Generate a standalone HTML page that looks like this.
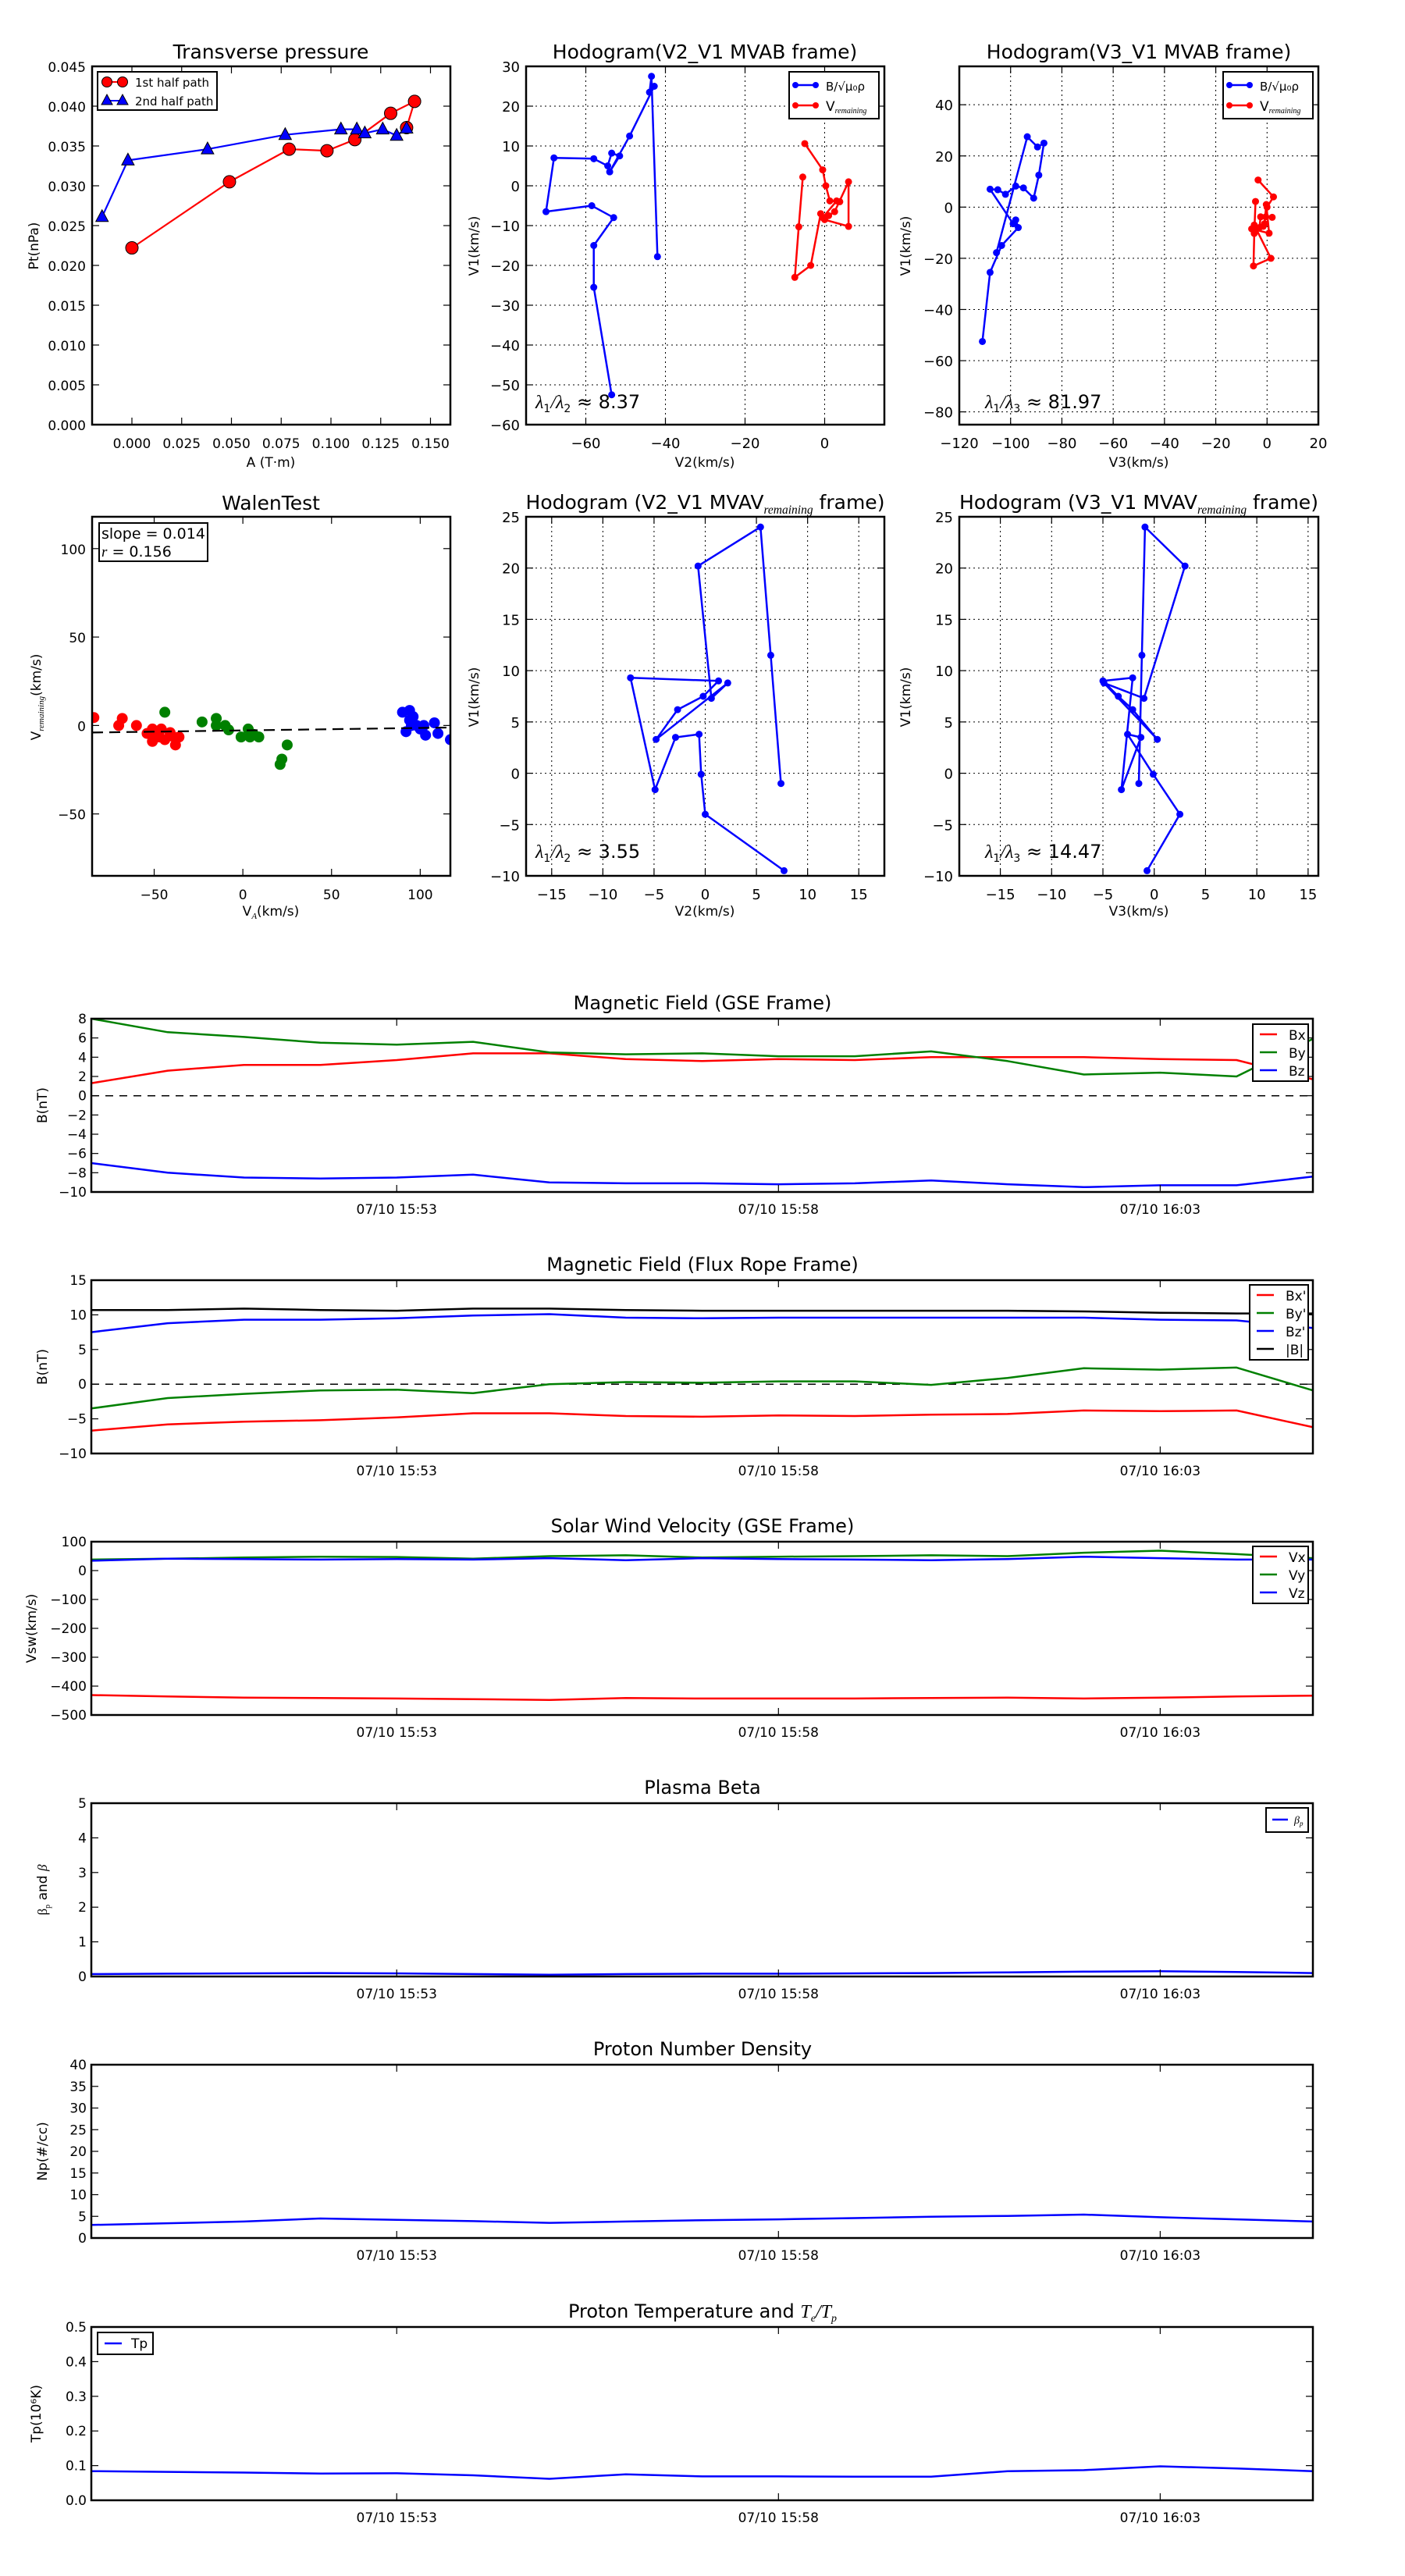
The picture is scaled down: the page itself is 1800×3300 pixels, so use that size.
<!DOCTYPE html>
<html><head><meta charset="utf-8"><style>
html,body{margin:0;padding:0;background:#fff;}
svg{display:block;font-family:"DejaVu Sans","Liberation Sans",sans-serif;}
</style></head><body>
<svg id="fig" width="1800" height="3300" viewBox="0 0 1800 3300" xmlns="http://www.w3.org/2000/svg"></svg>
<script>
// ---------- Transverse pressure ----------
const tp1A = [0.000, 0.049, 0.079, 0.098, 0.112, 0.130, 0.142, 0.138];
const tp1P = [0.0222, 0.0305, 0.0346, 0.0344, 0.0358, 0.0391, 0.0406, 0.0373];
const tp2A = [-0.015, -0.002, 0.038, 0.077, 0.105, 0.113, 0.117, 0.126, 0.133, 0.138];
const tp2P = [0.0261, 0.0332, 0.0346, 0.0364, 0.0371, 0.0371, 0.0366, 0.0371, 0.0363, 0.0372];
const tpXTicks = [0, 0.025, 0.05, 0.075, 0.1, 0.125, 0.15];
const tpYTicks = [0, 0.005, 0.01, 0.015, 0.02, 0.025, 0.03, 0.035, 0.04, 0.045];
// ---------- Hodogram MVAB ----------
const mvabBV1 = [-52.5, -25.5, -15, -8, -5, -6.5, 7, 6.8, 5, 8.2, 7.5, 3.5, 12.5, 25, 23.5, 27.5, -17.8];
const mvabBV2 = [-53.5, -58, -58, -53, -58.5, -70, -68, -58, -54.5, -53.5, -51.5, -54, -49, -42.8, -44, -43.5, -42];
const mvabBV3 = [-111, -108, -103.5, -97, -98, -99, -108, -105, -102, -98, -95, -91, -89, -87, -89.5, -93.5, -105.5];
const mvabRV1 = [2.2, -10.3, -23, -20, -7, -8.5, -10.2, 1, -6.5, -7.5, -8, -3.8, -4, -3.8, 0, 4, 10.6];
const mvabRV2 = [-5.5, -6.5, -7.5, -3.5, -1, 0, 6, 6, 2.5, 1, -0.5, 3, 3.8, 1.3, 0.3, -0.5, -5];
const mvabRV3 = [-4.5, -5, -5.3, 1.5, -5, -6, 0.8, -0.3, -1, -1.5, -3, -2.5, 2, -0.5, 0, 2.5, -3.5];
// ---------- Walen test ----------
const walRedX = [-84, -70, -68, -60, -54, -51, -51, -49, -47, -46, -44, -41, -40, -38, -36];
const walRedY = [4.5, 0, 4, 0, -4.5, -2, -9, -5, -6.5, -2, -8, -4, -6, -11, -6.5];
const walGrnX = [-44, -23, -15, -15, -10, -8, -1, 3, 4, 6, 9, 25, 22, 21];
const walGrnY = [7.5, 2, 4, 0, 0, -2.5, -6.5, -2, -6.5, -5, -6.5, -11, -19, -22];
const walBluX = [90, 92, 94, 94, 95, 96, 96, 98, 100, 102, 103, 108, 110, 117];
const walBluY = [7.5, -3.5, 8.5, 3, 0, 5, 1, 0, -2, 0, -5.5, 1.5, -4.5, -8];
const walSlope = [0.014];
const walIntercept = [-2.8];
// ---------- Hodogram MVAV ----------
const mvavV1 = [-9.5, -4, -0.1, 3.8, 3.5, -1.6, 9.3, 9.0, 7.5, 6.2, 3.3, 8.8, 7.3, 20.2, 24, 11.5, -1];
const mvavV2 = [7.7, 0, -0.4, -0.6, -2.9, -4.9, -7.3, 1.3, -0.2, -2.7, -4.8, 2.2, 0.6, -0.7, 5.4, 6.4, 7.4];
const mvavV3 = [-0.7, 2.5, -0.1, -2.6, -1.3, -3.2, -2.1, -5, -3.5, -2.1, 0.3, -4.9, -1, 3, -0.9, -1.2, -1.5];
// ---------- Time series (17 one-minute samples, 15:49 .. 16:05) ----------
const tsMinutes = [0,1,2,3,4,5,6,7,8,9,10,11,12,13,14,15,16];
const tsTickLabels = ["07/10 15:53", "07/10 15:58", "07/10 16:03"];
const tsTickMinutes = [4, 9, 14];
const gseBx = [1.3, 2.6, 3.2, 3.2, 3.7, 4.4, 4.4, 3.8, 3.6, 3.8, 3.7, 4.0, 4.0, 4.0, 3.8, 3.7, 1.7];
const gseBy = [8.0, 6.6, 6.1, 5.5, 5.3, 5.6, 4.5, 4.3, 4.4, 4.1, 4.1, 4.6, 3.6, 2.2, 2.4, 2.0, 5.9];
const gseBz = [-7.0, -8.0, -8.5, -8.6, -8.5, -8.2, -9.0, -9.1, -9.1, -9.2, -9.1, -8.8, -9.2, -9.5, -9.3, -9.3, -8.4];
const frBx = [-6.7, -5.8, -5.4, -5.2, -4.8, -4.2, -4.2, -4.6, -4.7, -4.5, -4.6, -4.4, -4.3, -3.8, -3.9, -3.8, -6.2];
const frBy = [-3.5, -2.0, -1.4, -0.9, -0.8, -1.3, 0.0, 0.3, 0.2, 0.4, 0.4, -0.1, 0.9, 2.3, 2.1, 2.4, -0.9];
const frBz = [7.5, 8.8, 9.3, 9.3, 9.5, 9.9, 10.1, 9.6, 9.5, 9.6, 9.6, 9.6, 9.6, 9.6, 9.3, 9.2, 8.1];
const frBt = [10.7, 10.7, 10.9, 10.7, 10.6, 10.9, 10.9, 10.7, 10.6, 10.6, 10.6, 10.6, 10.6, 10.5, 10.3, 10.2, 10.2];
const swVx = [-431, -436, -440, -441, -443, -445, -448, -441, -443, -443, -443, -441, -440, -443, -440, -436, -433];
const swVy = [38, 41, 45, 48, 47, 41, 50, 53, 45, 48, 50, 53, 50, 62, 69, 57, 43];
const swVz = [34, 41, 40, 38, 40, 38, 43, 36, 43, 40, 38, 36, 40, 48, 43, 38, 38];
const betaP = [0.07, 0.08, 0.09, 0.1, 0.09, 0.07, 0.05, 0.07, 0.08, 0.08, 0.09, 0.1, 0.12, 0.14, 0.15, 0.13, 0.1];
const npDens = [3.0, 3.4, 3.8, 4.5, 4.2, 3.9, 3.5, 3.8, 4.1, 4.3, 4.6, 4.9, 5.1, 5.4, 4.8, 4.3, 3.8];
const tpTemp = [0.084, 0.082, 0.080, 0.077, 0.078, 0.072, 0.062, 0.075, 0.069, 0.069, 0.068, 0.068, 0.084, 0.087, 0.098, 0.092, 0.084];

const NS = "http://www.w3.org/2000/svg";
const fig = document.getElementById('fig');
function mk(parent, tag, attrs, name, inter) {
  const el = document.createElementNS(NS, tag);
  for (const k in attrs) el.setAttribute(k, attrs[k]);
  
  
  parent.appendChild(el);
  return el;
}
function txt(parent, x, y, s, size, anchor, name, extra) {
  const a = {x: x, y: y, 'font-size': size, 'text-anchor': anchor || 'middle', fill: '#000'};
  if (extra) for (const k in extra) a[k] = extra[k];
  const t = mk(parent, 'text', a, name, false);
  t.textContent = s;
  return t;
}
function fmt(v, d) { const s = v.toFixed(d); return s.replace('-', '\u2212'); }

function makeAxes(P, name) {
  const g = mk(fig, 'g', {}, name, false);
  P.g = g;
  P.sx = v => P.x0 + (v - P.xmin) / (P.xmax - P.xmin) * P.w;
  P.sy = v => P.y0 + P.h - (v - P.ymin) / (P.ymax - P.ymin) * P.h;
  const clipId = 'clip-' + name;
  const cp = mk(g, 'clipPath', {id: clipId}, name + '-clip', false);
  mk(cp, 'rect', {x: P.x0, y: P.y0, width: P.w, height: P.h}, name + '-clip-rect', false);
  P.plot = mk(g, 'g', {'clip-path': 'url(#' + clipId + ')'}, name + '-plot-area', false);
  return P;
}
function drawTicks(P, xt, yt, xd, yd, grid, fs) {
  const g = P.g;
  xt.forEach(v => {
    const x = P.sx(v);
    if (grid) mk(P.plot, 'line', {x1: x, x2: x, y1: P.y0, y2: P.y0 + P.h, stroke: '#000', 'stroke-width': 1, 'stroke-dasharray': '2,4'}, 'x-grid-line', false);
    mk(g, 'line', {x1: x, x2: x, y1: P.y0 + P.h, y2: P.y0 + P.h - 9, stroke: '#000', 'stroke-width': 1.2}, 'x-tick', false);
    mk(g, 'line', {x1: x, x2: x, y1: P.y0, y2: P.y0 + 9, stroke: '#000', 'stroke-width': 1.2}, 'x-tick-top', false);
    txt(g, x, P.y0 + P.h + 30, fmt(v, xd), fs, 'middle', 'x-tick-label');
  });
  yt.forEach(v => {
    const y = P.sy(v);
    if (grid) mk(P.plot, 'line', {x1: P.x0, x2: P.x0 + P.w, y1: y, y2: y, stroke: '#000', 'stroke-width': 1, 'stroke-dasharray': '2,4'}, 'y-grid-line', false);
    mk(g, 'line', {x1: P.x0, x2: P.x0 + 9, y1: y, y2: y, stroke: '#000', 'stroke-width': 1.2}, 'y-tick', false);
    mk(g, 'line', {x1: P.x0 + P.w, x2: P.x0 + P.w - 9, y1: y, y2: y, stroke: '#000', 'stroke-width': 1.2}, 'y-tick-right', false);
    txt(g, P.x0 - 8, y + 7, fmt(v, yd), fs, 'end', 'y-tick-label');
  });
}
function frame(P) {
  mk(P.g, 'rect', {x: P.x0, y: P.y0, width: P.w, height: P.h, fill: 'none', stroke: '#000', 'stroke-width': 2.5}, 'axes-frame', false);
}
function polyline(P, xs, ys, color, name, w) {
  const pts = xs.map((x, i) => P.sx(x).toFixed(1) + ',' + P.sy(ys[i]).toFixed(1)).join(' ');
  return mk(P.plot, 'polyline', {points: pts, fill: 'none', stroke: color, 'stroke-width': w || 2.5, 'stroke-linejoin': 'round'}, name, false);
}
function dots(P, xs, ys, color, r, name, stroke) {
  xs.forEach((x, i) => {
    mk(P.plot, 'circle', {cx: P.sx(x), cy: P.sy(ys[i]), r: r, fill: color, stroke: stroke || 'none', 'stroke-width': 1}, name, false);
  });
}
function tris(P, xs, ys, color, name) {
  xs.forEach((x, i) => {
    const cx = P.sx(x), cy = P.sy(ys[i]);
    mk(P.plot, 'polygon', {points: (cx) + ',' + (cy - 9) + ' ' + (cx - 8) + ',' + (cy + 6) + ' ' + (cx + 8) + ',' + (cy + 6), fill: color, stroke: '#000', 'stroke-width': 1}, name, false);
  });
}
function ylabel(x, y, s, size, name) {
  return txt(fig, x, y, s, size, 'middle', name, {transform: 'rotate(-90 ' + x + ' ' + y + ')'});
}
function mathTitle(P, y, pre, sub, post, size, name) {
  const t = mk(fig, 'text', {x: P.x0 + P.w / 2, y: y, 'font-size': size, 'text-anchor': 'middle'}, name, false);
  const a = mk(t, 'tspan', {}, name + '-main', false); a.textContent = pre;
  const b = mk(t, 'tspan', {'font-style': 'italic', 'font-family': 'Liberation Serif, serif', 'font-size': size * 0.62, dy: 6}, name + '-subscript', false); b.textContent = sub;
  const c = mk(t, 'tspan', {dy: -6}, name + '-tail', false); c.textContent = post;
  return t;
}
function lambdaText(P, x, y, a, b, val, name) {
  const t = mk(fig, 'text', {x: x, y: y, 'font-size': 24}, name, false);
  const s1 = mk(t, 'tspan', {'font-family': 'Liberation Serif, serif', 'font-style': 'italic'}, name + '-l1', false); s1.textContent = 'λ';
  const s2 = mk(t, 'tspan', {'font-size': 14, dy: 5}, name + '-s1', false); s2.textContent = a;
  const s3 = mk(t, 'tspan', {dy: -5, 'font-family': 'Liberation Serif, serif', 'font-style': 'italic'}, name + '-l2', false); s3.textContent = '/λ';
  const s4 = mk(t, 'tspan', {'font-size': 14, dy: 5}, name + '-s2', false); s4.textContent = b;
  const s5 = mk(t, 'tspan', {dy: -5}, name + '-val', false); s5.textContent = ' ≈ ' + val;
}
function hodoLegend(x, y, name) {
  const g = mk(fig, 'g', {}, name, false);
  mk(g, 'rect', {x: x, y: y, width: 115, height: 60, fill: '#fff', stroke: '#000', 'stroke-width': 2}, name + '-box', false);
  mk(g, 'line', {x1: x + 8, x2: x + 34, y1: y + 17, y2: y + 17, stroke: '#00f', 'stroke-width': 2.5}, 'legend-line-b', false);
  mk(g, 'circle', {cx: x + 8, cy: y + 17, r: 4, fill: '#00f'}, 'legend-marker-b', false);
  mk(g, 'circle', {cx: x + 34, cy: y + 17, r: 4, fill: '#00f'}, 'legend-marker-b2', false);
  txt(g, x + 47, y + 24, 'B/√μ₀ρ', 15, 'start', 'legend-entry-b');
  mk(g, 'line', {x1: x + 8, x2: x + 34, y1: y + 43, y2: y + 43, stroke: '#f00', 'stroke-width': 2.5}, 'legend-line-v', false);
  mk(g, 'circle', {cx: x + 8, cy: y + 43, r: 4, fill: '#f00'}, 'legend-marker-v', false);
  mk(g, 'circle', {cx: x + 34, cy: y + 43, r: 4, fill: '#f00'}, 'legend-marker-v2', false);
  const t = txt(g, x + 47, y + 50, 'V', 17, 'start', 'legend-entry-v');
  const s = mk(t, 'tspan', {'font-size': 10, 'font-style': 'italic', 'font-family': 'Liberation Serif, serif', dy: 3}, 'legend-subscript', false);
  s.textContent = 'remaining';
}

// ===== Panel 1: Transverse pressure =====
const P1 = makeAxes({x0: 118, y0: 85, w: 459, h: 459, xmin: -0.02, xmax: 0.16, ymin: 0, ymax: 0.045}, 'transverse-pressure-chart');
drawTicks(P1, tpXTicks, tpYTicks, 3, 3, false, 17);
polyline(P1, tp1A, tp1P, '#f00', 'first-half-path-line', 2.2);
dots(P1, tp1A, tp1P, '#f00', 8, 'first-half-point', '#000');
polyline(P1, tp2A, tp2P, '#00f', 'second-half-path-line', 2.2);
tris(P1, tp2A, tp2P, '#00f', 'second-half-point');
frame(P1);
txt(fig, 347, 75, 'Transverse pressure', 25, 'middle', 'transverse-pressure-title');
txt(fig, 347, 598, 'A (T·m)', 17, 'middle', 'x-axis-title-a');
ylabel(49, 315, 'Pt(nPa)', 17, 'y-axis-title-pt');
(function(){
  const g = mk(fig, 'g', {}, 'tp-legend', false);
  mk(g, 'rect', {x: 125, y: 92, width: 153, height: 49, fill: '#fff', stroke: '#000', 'stroke-width': 2}, 'tp-legend-box', false);
  mk(g, 'line', {x1: 137, x2: 157, y1: 105, y2: 105, stroke: '#f00', 'stroke-width': 2}, 'legend-line-first', false);
  mk(g, 'circle', {cx: 137, cy: 105, r: 6.5, fill: '#f00', stroke: '#000'}, 'legend-marker-first', false);
  mk(g, 'circle', {cx: 157, cy: 105, r: 6.5, fill: '#f00', stroke: '#000'}, 'legend-marker-first2', false);
  txt(g, 173, 111, '1st half path', 15, 'start', 'legend-entry-first');
  mk(g, 'line', {x1: 137, x2: 157, y1: 129, y2: 129, stroke: '#00f', 'stroke-width': 2}, 'legend-line-second', false);
  mk(g, 'polygon', {points: '137,121 130,134 144,134', fill: '#00f', stroke: '#000'}, 'legend-marker-second', false);
  mk(g, 'polygon', {points: '157,121 150,134 164,134', fill: '#00f', stroke: '#000'}, 'legend-marker-second2', false);
  txt(g, 173, 135, '2nd half path', 15, 'start', 'legend-entry-second');
})();

// ===== Panel 2: Hodogram V2_V1 MVAB =====
const P2 = makeAxes({x0: 674, y0: 85, w: 459, h: 459, xmin: -75, xmax: 15, ymin: -60, ymax: 30}, 'hodogram-v2v1-mvab');
drawTicks(P2, [-60, -40, -20, 0], [-60, -50, -40, -30, -20, -10, 0, 10, 20, 30], 0, 0, true, 18);
polyline(P2, mvabBV2, mvabBV1, '#00f', 'b-hodogram-line');
dots(P2, mvabBV2, mvabBV1, '#00f', 4.5, 'b-hodogram-point');
polyline(P2, mvabRV2, mvabRV1, '#f00', 'v-hodogram-line');
dots(P2, mvabRV2, mvabRV1, '#f00', 4.5, 'v-hodogram-point');
frame(P2);
txt(fig, 903, 75, 'Hodogram(V2_V1 MVAB frame)', 25, 'middle', 'hodogram-v2v1-mvab-title');
txt(fig, 903, 598, 'V2(km/s)', 17, 'middle', 'x-axis-title-v2');
ylabel(613, 315, 'V1(km/s)', 17, 'y-axis-title-v1');
lambdaText(P2, 686, 523, '1', '2', '8.37', 'eigen-ratio-text');
hodoLegend(1011, 92, 'hodogram-legend');

// ===== Panel 3: Hodogram V3_V1 MVAB =====
const P3 = makeAxes({x0: 1229, y0: 85, w: 460, h: 459, xmin: -120, xmax: 20, ymin: -85, ymax: 55}, 'hodogram-v3v1-mvab');
drawTicks(P3, [-120, -100, -80, -60, -40, -20, 0, 20], [-80, -60, -40, -20, 0, 20, 40], 0, 0, true, 18);
polyline(P3, mvabBV3, mvabBV1, '#00f', 'b-hodogram-line');
dots(P3, mvabBV3, mvabBV1, '#00f', 4.5, 'b-hodogram-point');
polyline(P3, mvabRV3, mvabRV1, '#f00', 'v-hodogram-line');
dots(P3, mvabRV3, mvabRV1, '#f00', 4.5, 'v-hodogram-point');
frame(P3);
txt(fig, 1459, 75, 'Hodogram(V3_V1 MVAB frame)', 25, 'middle', 'hodogram-v3v1-mvab-title');
txt(fig, 1459, 598, 'V3(km/s)', 17, 'middle', 'x-axis-title-v3');
ylabel(1166, 315, 'V1(km/s)', 17, 'y-axis-title-v1');
lambdaText(P3, 1262, 523, '1', '3', '81.97', 'eigen-ratio-text');
hodoLegend(1567, 92, 'hodogram-legend');

// ===== Panel 4: Walen test =====
const P4 = makeAxes({x0: 118, y0: 662, w: 459, h: 460, xmin: -85, xmax: 117, ymin: -85, ymax: 118}, 'walen-test-chart');
drawTicks(P4, [-50, 0, 50, 100], [-50, 0, 50, 100], 0, 0, false, 17);
dots(P4, walRedX, walRedY, '#f00', 7, 'walen-point-red');
dots(P4, walGrnX, walGrnY, 'green', 7, 'walen-point-green');
dots(P4, walBluX, walBluY, '#00f', 7, 'walen-point-blue');
(function(){
  const xs = [P4.xmin, P4.xmax];
  const ys = xs.map(x => walSlope[0] * x + walIntercept[0]);
  const l = polyline(P4, xs, ys, '#000', 'walen-fit-line', 2.2);
  l.setAttribute('stroke-dasharray', '14,8');
})();
frame(P4);
txt(fig, 347, 653, 'WalenTest', 25, 'middle', 'walen-test-title');
(function(){
  const g = mk(fig, 'g', {}, 'walen-stats-box', false);
  mk(g, 'rect', {x: 127, y: 670, width: 139, height: 49, fill: '#fff', stroke: '#000', 'stroke-width': 2}, 'walen-stats-frame', false);
  txt(g, 130, 690, 'slope = 0.014', 19, 'start', 'walen-slope-text');
  const t = txt(g, 130, 713, ' = 0.156', 19, 'start', 'walen-r-text');
  const r = mk(t, 'tspan', {'font-style': 'italic', 'font-family': 'Liberation Serif, serif', x: 130}, 'r-symbol', false);
  r.textContent = 'r';
  t.insertBefore(r, t.firstChild);
})();
(function(){
  const t = txt(fig, 347, 1173, 'V', 17, 'middle', 'x-axis-title-va');
  const s = mk(t, 'tspan', {'font-size': 11, 'font-style': 'italic', 'font-family': 'Liberation Serif, serif', dy: 4}, 'va-subscript', false); s.textContent = 'A';
  const r = mk(t, 'tspan', {dy: -4}, 'va-unit', false); r.textContent = '(km/s)';
  const y = ylabel(52, 893, 'V', 17, 'y-axis-title-vrem');
  const s2 = mk(y, 'tspan', {'font-size': 11, 'font-style': 'italic', 'font-family': 'Liberation Serif, serif', dy: 4}, 'vrem-subscript', false); s2.textContent = 'remaining';
  const r2 = mk(y, 'tspan', {dy: -4}, 'vrem-unit', false); r2.textContent = '(km/s)';
})();

// ===== Panel 5: Hodogram V2_V1 MVAV =====
const P5 = makeAxes({x0: 674, y0: 662, w: 459, h: 460, xmin: -17.5, xmax: 17.5, ymin: -10, ymax: 25}, 'hodogram-v2v1-mvav');
drawTicks(P5, [-15, -10, -5, 0, 5, 10, 15], [-10, -5, 0, 5, 10, 15, 20, 25], 0, 0, true, 18);
polyline(P5, mvavV2, mvavV1, '#00f', 'b-hodogram-line');
dots(P5, mvavV2, mvavV1, '#00f', 4.5, 'b-hodogram-point');
frame(P5);
mathTitle(P5, 652, 'Hodogram (V2_V1 MVAV', 'remaining', ' frame)', 25, 'hodogram-v2v1-mvav-title');
txt(fig, 903, 1173, 'V2(km/s)', 17, 'middle', 'x-axis-title-v2');
ylabel(613, 893, 'V1(km/s)', 17, 'y-axis-title-v1');
lambdaText(P5, 686, 1099, '1', '2', '3.55', 'eigen-ratio-text');

// ===== Panel 6: Hodogram V3_V1 MVAV =====
const P6 = makeAxes({x0: 1229, y0: 662, w: 460, h: 460, xmin: -19, xmax: 16, ymin: -10, ymax: 25}, 'hodogram-v3v1-mvav');
drawTicks(P6, [-15, -10, -5, 0, 5, 10, 15], [-10, -5, 0, 5, 10, 15, 20, 25], 0, 0, true, 18);
polyline(P6, mvavV3, mvavV1, '#00f', 'b-hodogram-line');
dots(P6, mvavV3, mvavV1, '#00f', 4.5, 'b-hodogram-point');
frame(P6);
mathTitle(P6, 652, 'Hodogram (V3_V1 MVAV', 'remaining', ' frame)', 25, 'hodogram-v3v1-mvav-title');
txt(fig, 1459, 1173, 'V3(km/s)', 17, 'middle', 'x-axis-title-v3');
ylabel(1166, 893, 'V1(km/s)', 17, 'y-axis-title-v1');
lambdaText(P6, 1262, 1099, '1', '3', '14.47', 'eigen-ratio-text');

// ===== Time series =====
function tsPanel(top, yt, yd, name, title) {
  const P = makeAxes({x0: 117, y0: top, w: 1565, h: 222, xmin: 0, xmax: 16, ymin: yt[0], ymax: yt[yt.length - 1]}, name);
  yt.forEach(v => {
    const y = P.sy(v);
    mk(P.g, 'line', {x1: P.x0, x2: P.x0 + 9, y1: y, y2: y, stroke: '#000', 'stroke-width': 1.2}, 'y-tick', false);
    mk(P.g, 'line', {x1: P.x0 + P.w, x2: P.x0 + P.w - 9, y1: y, y2: y, stroke: '#000', 'stroke-width': 1.2}, 'y-tick-right', false);
    txt(P.g, P.x0 - 6, y + 6, fmt(v, yd), 17, 'end', 'y-tick-label');
  });
  tsTickMinutes.forEach((m, i) => {
    const x = P.sx(m);
    mk(P.g, 'line', {x1: x, x2: x, y1: P.y0 + P.h, y2: P.y0 + P.h - 9, stroke: '#000', 'stroke-width': 1.2}, 'x-tick', false);
    mk(P.g, 'line', {x1: x, x2: x, y1: P.y0, y2: P.y0 + 9, stroke: '#000', 'stroke-width': 1.2}, 'x-tick-top', false);
    txt(P.g, x, P.y0 + P.h + 28, tsTickLabels[i], 17, 'middle', 'x-tick-label');
  });
  if (title) txt(fig, 900, top - 12, title, 24, 'middle', name + '-title');
  return P;
}
function zeroLine(P) {
  const l = polyline(P, [P.xmin, P.xmax], [0, 0], '#000', 'zero-reference-line', 1.5);
  l.setAttribute('stroke-dasharray', '10,8');
}
function tsLegend(x, y, w, labels, colors, name) {
  const g = mk(fig, 'g', {}, name, false);
  mk(g, 'rect', {x: x, y: y, width: w, height: labels.length * 23 + 4, fill: '#fff', stroke: '#000', 'stroke-width': 2}, name + '-box', false);
  labels.forEach((s, i) => {
    const cy = y + 13 + i * 23;
    mk(g, 'line', {x1: x + 9, x2: x + 31, y1: cy, y2: cy, stroke: colors[i], 'stroke-width': 2.5}, 'legend-line', false);
    txt(g, x + 46, cy + 7, s, 17, 'start', 'legend-entry');
  });
  return g;
}

const T1 = tsPanel(1305, [-10, -8, -6, -4, -2, 0, 2, 4, 6, 8], 0, 'magnetic-field-gse-chart', 'Magnetic Field (GSE Frame)');
zeroLine(T1);
polyline(T1, tsMinutes, gseBx, '#f00', 'bx-line');
polyline(T1, tsMinutes, gseBy, 'green', 'by-line');
polyline(T1, tsMinutes, gseBz, '#00f', 'bz-line');
frame(T1);
ylabel(60, 1416, 'B(nT)', 17, 'y-axis-title-b');
tsLegend(1605, 1312, 71, ['Bx', 'By', 'Bz'], ['#f00', 'green', '#00f'], 'gse-legend');

const T2 = tsPanel(1640, [-10, -5, 0, 5, 10, 15], 0, 'magnetic-field-flux-rope-chart', 'Magnetic Field (Flux Rope Frame)');
zeroLine(T2);
polyline(T2, tsMinutes, frBx, '#f00', 'bx-prime-line');
polyline(T2, tsMinutes, frBy, 'green', 'by-prime-line');
polyline(T2, tsMinutes, frBz, '#00f', 'bz-prime-line');
polyline(T2, tsMinutes, frBt, '#000', 'b-magnitude-line');
frame(T2);
ylabel(60, 1751, 'B(nT)', 17, 'y-axis-title-b');
tsLegend(1601, 1646, 75, ["Bx'", "By'", "Bz'", '|B|'], ['#f00', 'green', '#00f', '#000'], 'flux-rope-legend');

const T3 = tsPanel(1975, [-500, -400, -300, -200, -100, 0, 100], 0, 'solar-wind-velocity-chart', 'Solar Wind Velocity (GSE Frame)');
polyline(T3, tsMinutes, swVx, '#f00', 'vx-line');
polyline(T3, tsMinutes, swVy, 'green', 'vy-line');
polyline(T3, tsMinutes, swVz, '#00f', 'vz-line');
frame(T3);
ylabel(46, 2086, 'Vsw(km/s)', 17, 'y-axis-title-vsw');
tsLegend(1605, 1981, 71, ['Vx', 'Vy', 'Vz'], ['#f00', 'green', '#00f'], 'velocity-legend');

const T4 = tsPanel(2310, [0, 1, 2, 3, 4, 5], 0, 'plasma-beta-chart', 'Plasma Beta');
polyline(T4, tsMinutes, betaP, '#00f', 'beta-p-line');
frame(T4);
(function(){
  const y = ylabel(60, 2421, 'β', 17, 'y-axis-title-beta');
  y.setAttribute('font-family', 'Liberation Serif, serif');
  const a = mk(y, 'tspan', {'font-size': 10, dy: 4}, 'beta-sub', false); a.textContent = 'p';
  const b = mk(y, 'tspan', {dy: -4, 'font-family': 'DejaVu Sans, sans-serif', 'font-style': 'normal'}, 'beta-and', false); b.textContent = ' and ';
  const c = mk(y, 'tspan', {'font-style': 'italic'}, 'beta-2', false); c.textContent = 'β';
  const g = mk(fig, 'g', {}, 'beta-legend', false);
  mk(g, 'rect', {x: 1622, y: 2316, width: 54, height: 31, fill: '#fff', stroke: '#000', 'stroke-width': 2}, 'beta-legend-box', false);
  mk(g, 'line', {x1: 1630, x2: 1650, y1: 2331, y2: 2331, stroke: '#00f', 'stroke-width': 2.5}, 'legend-line', false);
  const t = txt(g, 1658, 2336, 'β', 14, 'start', 'legend-entry-beta', {'font-style': 'italic', 'font-family': 'Liberation Serif, serif'});
  const s = mk(t, 'tspan', {'font-size': 9, dy: 3}, 'legend-sub', false); s.textContent = 'p';
})();

const T5 = tsPanel(2645, [0, 5, 10, 15, 20, 25, 30, 35, 40], 0, 'proton-density-chart', 'Proton Number Density');
polyline(T5, tsMinutes, npDens, '#00f', 'np-line');
frame(T5);
ylabel(60, 2756, 'Np(#/cc)', 17, 'y-axis-title-np');

const T6 = tsPanel(2981, [0, 0.1, 0.2, 0.3, 0.4, 0.5], 1, 'proton-temperature-chart', null);
polyline(T6, tsMinutes, tpTemp, '#00f', 'tp-line');
frame(T6);
(function(){
  const t = txt(fig, 900, 2969, 'Proton Temperature and ', 24, 'middle', 'proton-temperature-chart-title');
  const a = mk(t, 'tspan', {'font-style': 'italic', 'font-family': 'Liberation Serif, serif'}, 'te-symbol', false); a.textContent = 'T';
  const b = mk(t, 'tspan', {'font-size': 14, dy: 5, 'font-style': 'italic', 'font-family': 'Liberation Serif, serif'}, 'te-sub', false); b.textContent = 'e';
  const c = mk(t, 'tspan', {dy: -5, 'font-style': 'italic', 'font-family': 'Liberation Serif, serif'}, 'tp-symbol', false); c.textContent = '/T';
  const d = mk(t, 'tspan', {'font-size': 14, dy: 5, 'font-style': 'italic', 'font-family': 'Liberation Serif, serif'}, 'tp-sub', false); d.textContent = 'p';
  ylabel(52, 3092, 'Tp(10⁶K)', 17, 'y-axis-title-tp');
  const g = mk(fig, 'g', {}, 'tp-legend', false);
  mk(g, 'rect', {x: 125, y: 2988, width: 71, height: 28, fill: '#fff', stroke: '#000', 'stroke-width': 2}, 'tp-legend-box', false);
  mk(g, 'line', {x1: 134, x2: 156, y1: 3002, y2: 3002, stroke: '#00f', 'stroke-width': 2.5}, 'legend-line', false);
  txt(g, 168, 3008, 'Tp', 17, 'start', 'legend-entry-tp');
})();
</script>
</body></html>
